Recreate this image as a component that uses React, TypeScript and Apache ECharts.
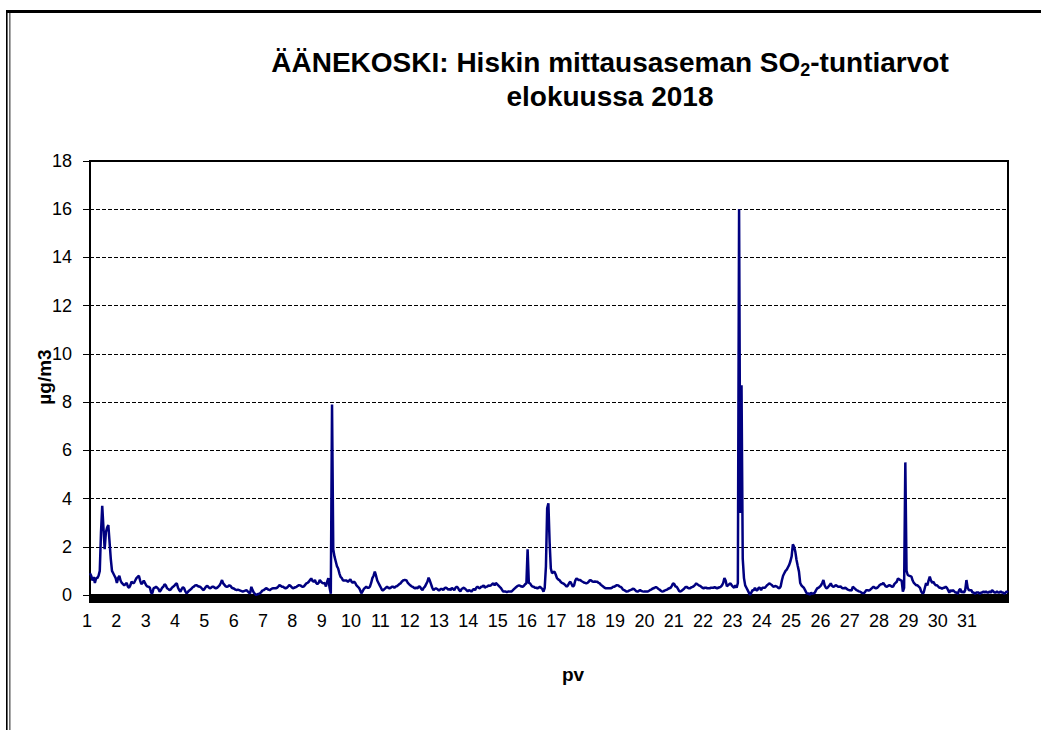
import { useEffect, useRef } from "react";
import * as echarts from "echarts";

// Tick labels (days of August 2018)
const dayLabels = ["1","2","3","4","5","6","7","8","9","10","11","12","13","14","15","16","17","18","19","20","21","22","23","24","25","26","27","28","29","30","31"];
const yTicks = { min: 0, max: 18, interval: 2 };

// Hourly SO2 values (µg/m3), one array per day, hours 00..23
const d01 = [0.9,0.8,0.6,0.75,0.5,0.7,0.7,0.8,1.0,2.6,3.7,2.8,1.9,2.6,2.8,2.9,2.2,1.5,1.0,0.9,0.8,0.7,0.5,0.7];
const d02 = [0.8,0.6,0.5,0.45,0.4,0.45,0.5,0.35,0.3,0.4,0.55,0.5,0.5,0.6,0.7,0.75,0.8,0.6,0.45,0.5,0.6,0.5,0.4,0.35];
const d03 = [0.34,0.3,0.1,0.07,0.28,0.3,0.34,0.3,0.25,0.14,0.2,0.3,0.34,0.45,0.4,0.28,0.25,0.2,0.22,0.3,0.34,0.38,0.45,0.48];
const d04 = [0.3,0.2,0.14,0.25,0.32,0.28,0.15,0.07,0.12,0.18,0.22,0.26,0.32,0.35,0.4,0.41,0.38,0.35,0.34,0.3,0.24,0.2,0.28,0.35];
const d05 = [0.38,0.32,0.28,0.3,0.34,0.34,0.3,0.28,0.3,0.35,0.4,0.5,0.62,0.48,0.42,0.36,0.34,0.36,0.4,0.38,0.3,0.28,0.26,0.22];
const d06 = [0.2,0.22,0.2,0.18,0.16,0.14,0.16,0.18,0.2,0.15,0.1,0.07,0.34,0.2,0.1,0.05,0.0,0.03,0.05,0.07,0.12,0.18,0.2,0.24];
const d07 = [0.28,0.26,0.22,0.2,0.24,0.27,0.28,0.28,0.28,0.3,0.35,0.41,0.38,0.34,0.34,0.3,0.28,0.3,0.35,0.41,0.38,0.32,0.28,0.3];
const d08 = [0.32,0.34,0.38,0.41,0.4,0.36,0.34,0.36,0.42,0.48,0.5,0.55,0.62,0.69,0.58,0.55,0.62,0.5,0.45,0.5,0.62,0.55,0.5,0.48];
const d09 = [0.5,0.35,0.55,0.7,0.3,0.05,7.9,1.9,1.6,1.4,1.2,1.1,0.9,0.75,0.7,0.6,0.6,0.6,0.6,0.55,0.6,0.65,0.55,0.5];
const d10 = [0.55,0.5,0.4,0.35,0.3,0.2,0.07,0.15,0.25,0.3,0.35,0.3,0.3,0.35,0.5,0.7,0.8,0.97,0.8,0.6,0.5,0.4,0.3,0.2];
const d11 = [0.2,0.25,0.3,0.34,0.3,0.28,0.3,0.34,0.34,0.3,0.35,0.36,0.4,0.45,0.48,0.55,0.6,0.62,0.62,0.6,0.5,0.45,0.4,0.36];
const d12 = [0.34,0.3,0.28,0.3,0.28,0.35,0.34,0.25,0.2,0.3,0.35,0.45,0.55,0.72,0.6,0.45,0.3,0.2,0.25,0.28,0.25,0.2,0.2,0.25];
const d13 = [0.25,0.2,0.28,0.3,0.28,0.22,0.25,0.2,0.3,0.25,0.2,0.3,0.34,0.3,0.2,0.15,0.25,0.28,0.3,0.25,0.2,0.15,0.2,0.18];
const d14 = [0.14,0.2,0.25,0.2,0.3,0.34,0.3,0.28,0.34,0.35,0.4,0.3,0.34,0.35,0.4,0.38,0.4,0.45,0.48,0.4,0.5,0.45,0.4,0.35];
const d15 = [0.3,0.22,0.14,0.14,0.14,0.12,0.14,0.14,0.15,0.15,0.2,0.25,0.3,0.34,0.38,0.4,0.38,0.35,0.34,0.38,0.45,0.48,1.9,0.5];
const d16 = [0.48,0.4,0.35,0.34,0.3,0.3,0.28,0.3,0.34,0.3,0.25,0.14,0.3,1.2,3.6,3.8,2.2,1.1,0.9,0.95,0.97,0.85,0.7,0.65];
const d17 = [0.62,0.55,0.5,0.48,0.45,0.4,0.34,0.4,0.5,0.55,0.45,0.34,0.4,0.6,0.69,0.65,0.62,0.62,0.58,0.55,0.52,0.5,0.48,0.5];
const d18 = [0.55,0.62,0.6,0.56,0.55,0.56,0.55,0.55,0.5,0.48,0.42,0.38,0.34,0.3,0.28,0.28,0.28,0.28,0.28,0.3,0.34,0.34,0.38,0.41];
const d19 = [0.4,0.36,0.34,0.3,0.22,0.2,0.17,0.14,0.15,0.18,0.2,0.22,0.26,0.25,0.2,0.15,0.14,0.17,0.2,0.17,0.15,0.14,0.14,0.14];
const d20 = [0.14,0.16,0.2,0.22,0.26,0.28,0.3,0.33,0.3,0.25,0.22,0.18,0.14,0.15,0.18,0.2,0.22,0.26,0.28,0.3,0.38,0.48,0.45,0.35];
const d21 = [0.34,0.25,0.16,0.14,0.18,0.22,0.26,0.32,0.34,0.3,0.28,0.28,0.32,0.34,0.37,0.42,0.48,0.44,0.4,0.38,0.34,0.3,0.28,0.3];
const d22 = [0.3,0.28,0.28,0.28,0.3,0.3,0.3,0.32,0.3,0.28,0.3,0.32,0.34,0.4,0.5,0.7,0.6,0.36,0.4,0.45,0.48,0.4,0.34,0.3];
const d23 = [0.4,0.3,0.5,16.0,3.4,8.7,1.5,0.7,0.4,0.3,0.2,0.1,0.0,0.1,0.2,0.2,0.3,0.2,0.2,0.3,0.3,0.2,0.3,0.3];
const d24 = [0.3,0.35,0.41,0.45,0.48,0.44,0.4,0.34,0.36,0.37,0.35,0.3,0.28,0.35,0.6,0.8,0.9,1.0,1.05,1.15,1.25,1.4,1.6,2.1];
const d25 = [2.0,1.8,1.45,1.2,0.97,0.5,0.4,0.34,0.3,0.2,0.1,0.05,0.07,0.0,0.1,0.05,0.07,0.1,0.2,0.28,0.3,0.34,0.4,0.5];
const d26 = [0.62,0.4,0.3,0.28,0.34,0.4,0.48,0.38,0.34,0.36,0.41,0.38,0.34,0.34,0.36,0.3,0.28,0.28,0.3,0.26,0.22,0.2,0.2,0.18];
const d27 = [0.34,0.3,0.25,0.2,0.18,0.15,0.14,0.1,0.08,0.07,0.12,0.2,0.2,0.18,0.2,0.25,0.3,0.34,0.3,0.28,0.3,0.35,0.41,0.45];
const d28 = [0.45,0.5,0.42,0.36,0.34,0.38,0.41,0.38,0.34,0.35,0.45,0.5,0.55,0.69,0.65,0.62,0.6,0.14,0.3,5.5,1.0,0.83,0.8,0.78];
const d29 = [0.76,0.6,0.5,0.45,0.4,0.4,0.35,0.3,0.14,0.07,0.1,0.3,0.5,0.4,0.6,0.76,0.6,0.5,0.55,0.45,0.4,0.4,0.35,0.3];
const d30 = [0.3,0.25,0.3,0.3,0.35,0.3,0.2,0.1,0.2,0.15,0.2,0.15,0.1,0.1,0.05,0.2,0.25,0.1,0.15,0.1,0.2,0.62,0.3,0.2];
const d31 = [0.2,0.2,0.1,0.1,0.05,0.1,0.1,0.1,0.05,0.1,0.1,0.15,0.1,0.15,0.1,0.1,0.15,0.1,0.2,0.15,0.1,0.1,0.15,0.1];
// First hours of the following day shown at the right edge
const tail = [0.1,0.15,0.1,0.1,0.05,0.1,0.15,0.1];

const days = [d01,d02,d03,d04,d05,d06,d07,d08,d09,d10,d11,d12,d13,d14,d15,d16,d17,d18,d19,d20,d21,d22,d23,d24,d25,d26,d27,d28,d29,d30,d31];

const FONT = '"Liberation Sans", Arial, Helvetica, sans-serif';

function buildOption() {
  const values: number[] = [];
  const cats: string[] = [];
  days.forEach((arr, di) => {
    arr.forEach((v, h) => {
      values.push(v);
      cats.push(h === 0 ? dayLabels[di] : "");
    });
  });
  tail.forEach((v) => {
    values.push(v);
    cats.push("");
  });

  return {
    animation: false,
    backgroundColor: "#ffffff",
    title: {
      text: "ÄÄNEKOSKI: Hiskin mittausaseman SO{sub|2}-tuntiarvot\nelokuussa 2018",
      left: 605,
      top: 40,
      textAlign: "center",
      textStyle: {
        fontFamily: FONT,
        fontWeight: "bold",
        fontSize: 28,
        color: "#000",
        lineHeight: 34,
        rich: {
          sub: {
            fontFamily: FONT,
            fontWeight: "bold",
            fontSize: 18,
            color: "#000",
            lineHeight: 28,
            verticalAlign: "bottom",
          },
        },
      },
    },
    grid: {
      left: 90,
      right: 33,
      top: 161,
      bottom: 135,
      show: true,
      borderColor: "#000",
      borderWidth: 2,
      backgroundColor: "transparent",
      containLabel: false,
    },
    xAxis: {
      type: "category",
      data: cats,
      boundaryGap: false,
      axisLine: { show: true, lineStyle: { color: "#000", width: 2 } },
      axisTick: { show: true, interval: 0, length: 8, inside: false, lineStyle: { color: "#000", width: 2 } },
      axisLabel: {
        interval: (_i: number, v: string) => v !== "",
        fontFamily: FONT,
        fontSize: 18,
        color: "#000",
        margin: 17,
        padding: [0, 6, 0, 0],
      },
      splitLine: { show: false },
    },
    yAxis: {
      type: "value",
      min: yTicks.min,
      max: yTicks.max,
      interval: yTicks.interval,
      axisLine: { show: true, lineStyle: { color: "#000", width: 2 } },
      axisTick: { show: true, length: 7, inside: false, lineStyle: { color: "#000", width: 1 } },
      axisLabel: { fontFamily: FONT, fontSize: 18, color: "#000", margin: 18 },
      splitLine: { show: true, lineStyle: { color: "#000", width: 1, type: [4, 2] } },
    },
    series: [
      {
        type: "line",
        data: values,
        showSymbol: false,
        symbol: "none",
        lineStyle: { color: "#000080", width: 2.5 },
        itemStyle: { color: "#000080" },
      },
    ],
    graphic: [
      { type: "rect", shape: { x: 6, y: 10, width: 1035, height: 3 }, style: { fill: "#000" } },
      { type: "rect", shape: { x: 6, y: 10, width: 1.6, height: 720 }, style: { fill: "#000" } },
      { type: "rect", shape: { x: 9, y: 13, width: 1.6, height: 717 }, style: { fill: "#6f6f6f" } },
      {
        type: "text",
        x: 44,
        y: 377,
        rotation: Math.PI / 2,
        style: {
          text: "µg/m3",
          fill: "#000",
          fontFamily: FONT,
          fontWeight: "bold",
          fontSize: 19,
          textAlign: "center",
          textVerticalAlign: "middle",
          align: "center",
          verticalAlign: "middle",
        },
      },
      {
        type: "text",
        x: 573,
        y: 674,
        style: {
          text: "pv",
          fill: "#000",
          fontFamily: FONT,
          fontWeight: "bold",
          fontSize: 19,
          textAlign: "center",
          textVerticalAlign: "middle",
          align: "center",
          verticalAlign: "middle",
        },
      },
    ],
  };
}

export default function App() {
  const ref = useRef<HTMLDivElement>(null);
  useEffect(() => {
    if (!ref.current) return;
    const chart = echarts.init(ref.current, null, { renderer: "svg" });
    chart.setOption(buildOption() as any);
    return () => chart.dispose();
  }, []);
  return (
    <div
      ref={ref}
      style={{ position: "fixed", left: 0, top: 0, width: 1041, height: 730, background: "#fff" }}
    />
  );
}
